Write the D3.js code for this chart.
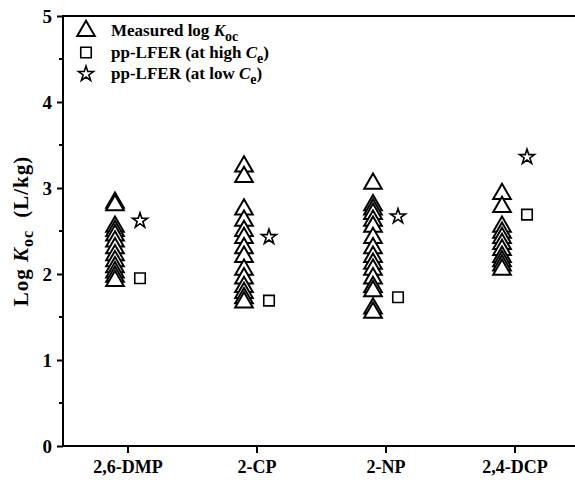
<!DOCTYPE html>
<html>
<head>
<meta charset="utf-8">
<script src="https://cdn.jsdelivr.net/npm/d3@7/dist/d3.min.js"></script>
<style>
    body { margin: 0; background: #fff; }
    text { font-family: "Liberation Serif", "Times New Roman", serif; font-weight: bold; fill: #000; }
</style>
</head>
<body>
<script>
var categories = ['2,6-DMP', '2-CP', '2-NP', '2,4-DCP'];

// measured log Koc values per compound
var measured = [
    [2.83, 2.80, 2.55, 2.50, 2.45, 2.38, 2.30, 2.22, 2.15, 2.08, 2.02, 1.97, 1.92],
    [3.25, 3.13, 2.75, 2.62, 2.50, 2.42, 2.30, 2.20, 2.05, 1.95, 1.85, 1.78, 1.72, 1.67],
    [3.05, 2.80, 2.75, 2.70, 2.62, 2.55, 2.42, 2.30, 2.20, 2.12, 2.05, 1.95, 1.85, 1.80, 1.60, 1.55],
    [2.93, 2.78, 2.55, 2.48, 2.42, 2.35, 2.28, 2.20, 2.15, 2.10, 2.05]
];
var lferHigh = [1.95, 1.69, 1.73, 2.69];
var lferLow = [2.62, 2.43, 2.67, 3.36];
var yTicks = [0, 1, 2, 3, 4, 5];

(function() {
    var width = 575, height = 492,
        x0 = 63, y0 = 16, y1 = 446, x1 = 579,
        svg = d3.select('body').append('svg')
            .attr('width', width)
            .attr('height', height),
        xScale = d3.scaleLinear().domain([0.5, 4.5]).range([x0, x1]),
        yScale = d3.scaleLinear().domain([0, 5]).range([y1, y0]),
        triangle = d3.symbol().type(d3.symbolTriangle).size(135),
        square = d3.symbol().type(d3.symbolSquare).size(110),
        star = d3.symbol().type(d3.symbolStar).size(70),
        offset = 12.5;

    // frame
    svg.append('rect')
        .attr('x', x0).attr('y', y0)
        .attr('width', x1-x0).attr('height', y1-y0)
        .attr('fill', 'none').attr('stroke', '#000').attr('stroke-width', 2);

    // y axis
    var yAxis = svg.append('g')
        .attr('transform', 'translate('+x0+',0)')
        .call(d3.axisLeft(yScale).tickValues(yTicks).tickSize(6).tickPadding(5).tickFormat(d3.format('d')));
    yAxis.select('.domain').remove();
    yAxis.selectAll('line').attr('stroke-width', 2);
    yAxis.selectAll('text').attr('font-size', 19).attr('font-family', null);

    svg.append('g')
        .selectAll('line')
        .data(d3.range(0.5, 5, 1))
        .enter()
        .append('line')
        .attr('x1', x0-4).attr('x2', x0)
        .attr('y1', function(d) { return yScale(d); })
        .attr('y2', function(d) { return yScale(d); })
        .attr('stroke', '#000').attr('stroke-width', 2);

    // x axis
    var xAxis = svg.append('g')
        .attr('transform', 'translate(0,'+y1+')')
        .call(d3.axisBottom(xScale).tickValues([1, 2, 3, 4]).tickSize(7).tickPadding(7)
            .tickFormat(function(d) { return categories[d-1]; }));
    xAxis.select('.domain').remove();
    xAxis.selectAll('line').attr('stroke-width', 2);
    xAxis.selectAll('text').attr('font-size', 18).attr('font-family', null);

    // y label
    var ylab = svg.append('text')
        .attr('transform', 'translate(28,'+((y0+y1)/2)+') rotate(-90)')
        .attr('text-anchor', 'middle')
        .attr('font-size', 21)
        .style('letter-spacing', '1px');
    ylab.append('tspan').text('Log ');
    ylab.append('tspan').attr('font-style', 'italic').text('K');
    ylab.append('tspan').attr('dy', 5).attr('font-size', 16).text('oc');
    ylab.append('tspan').attr('dy', -5).attr('dx', 12).text('(L/kg)');

    // points
    var marks = svg.append('g')
        .attr('fill', 'none').attr('stroke', '#000').attr('stroke-width', 2);

    measured.forEach(function(vals, i) {
        marks.selectAll(null)
            .data(vals)
            .enter()
            .append('path')
            .attr('d', triangle)
            .attr('fill', '#fff')
            .attr('transform', function(d) { return 'translate('+(xScale(i+1)-offset)+','+yScale(d)+')'; });
    });

    marks.selectAll(null)
        .data(lferHigh)
        .enter()
        .append('path')
        .attr('d', square)
        .attr('stroke-width', 1.6)
        .attr('transform', function(d, i) { return 'translate('+(xScale(i+1)+offset)+','+yScale(d)+')'; });

    marks.selectAll(null)
        .data(lferLow)
        .enter()
        .append('path')
        .attr('d', star)
        .attr('stroke-width', 1.6)
        .attr('transform', function(d, i) { return 'translate('+(xScale(i+1)+offset)+','+yScale(d)+')'; });

    // legend
    var legend = svg.append('g'),
        items = [
            {sym: triangle, main: 'Measured log ', it: 'K', sub: 'oc', tail: ''},
            {sym: square, main: 'pp-LFER (at high ', it: 'C', sub: 'e', tail: ')'},
            {sym: star, main: 'pp-LFER (at low ', it: 'C', sub: 'e', tail: ')'}
        ];

    items.forEach(function(it, i) {
        var y = 31+i*21.5;
        legend.append('path')
            .attr('d', it.sym)
            .attr('transform', 'translate(86,'+y+')')
            .attr('fill', 'none').attr('stroke', '#000')
            .attr('stroke-width', i === 0 ? 2 : 1.6);
        var t = legend.append('text')
            .attr('x', 111).attr('y', y+5)
            .attr('font-size', 17);
        t.append('tspan').text(it.main);
        t.append('tspan').attr('font-style', 'italic').text(it.it);
        t.append('tspan').attr('dy', 5).attr('font-size', 14).text(it.sub);
        t.append('tspan').attr('dy', -5).text(it.tail);
    });
})();
</script>
</body>
</html>
